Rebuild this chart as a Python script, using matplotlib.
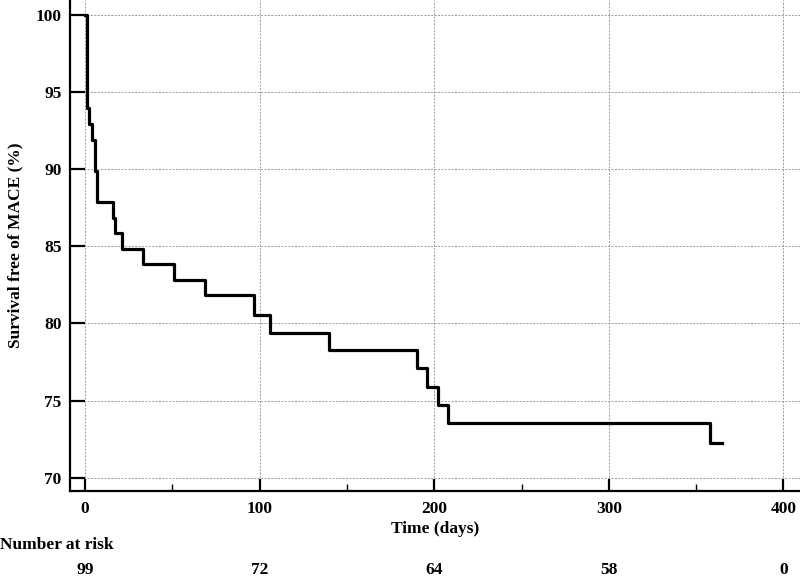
import matplotlib
matplotlib.use('Agg')
import matplotlib.pyplot as plt
import matplotlib.transforms as mtransforms
from matplotlib.ticker import MultipleLocator

# Kaplan-Meier steps (day of drop, survival after it)
days = [0, 1, 2, 4, 6, 7, 16, 17, 21, 33, 51, 69, 97, 106, 140,
        190, 196, 202, 208, 358, 365]
surv = [100, 93.94, 92.93, 91.92, 89.90, 87.88, 86.87, 85.86, 84.85, 83.84,
        82.83, 81.82, 80.54, 79.40, 78.25, 77.10, 75.90, 74.74, 73.55,
        72.25, 72.25]

risk_days = [0, 100, 200, 300, 400]
risk_n = [99, 72, 64, 58, 0]

plt.rcParams['font.family'] = ['Liberation Serif', 'DejaVu Serif']
plt.rcParams['font.weight'] = 'bold'
fs = 12.5

fig = plt.figure(figsize=(8, 5.77), dpi=100)
ax = fig.add_axes([70/800, 1 - 491/577, 730/800, 491/577])

ax.step(days, surv, where='post', color='black', lw=2.3, zorder=3)

ax.set_xlim(-8.6, 409.5)
ax.set_ylim(69.14, 100.97)
ax.xaxis.set_major_locator(MultipleLocator(100))
ax.xaxis.set_minor_locator(MultipleLocator(50))
ax.yaxis.set_major_locator(MultipleLocator(5))

for s in ['top', 'right']:
	ax.spines[s].set_visible(False)
for s in ['left', 'bottom']:
	ax.spines[s].set_linewidth(1.6)

ax.tick_params(axis='x', which='major', direction='in', length=9, width=1.6,
				labelsize=fs, pad=7)
ax.tick_params(axis='x', which='minor', direction='in', length=5, width=1)
ax.tick_params(axis='y', which='major', direction='in', length=11, width=1.6,
				labelsize=fs, pad=6)
for lab in ax.get_xticklabels() + ax.get_yticklabels():
	lab.set_fontweight('bold')

ax.grid(True, which='major', color='#999999', linestyle=(0, (2, 1.5)), lw=0.7)
ax.set_axisbelow(True)

ax.set_xlabel('Time (days)', fontsize=fs, fontweight='bold', labelpad=3)
fig.text(15/800, 1 - 245/577, 'Survival free of MACE (%)', rotation=90,
		ha='center', va='center', fontsize=fs, fontweight='bold')

# number at risk table under the axis
fig.text(0.0, 1 - 545/577, 'Number at risk', ha='left', va='center',
		fontsize=fs, fontweight='bold')
trans = mtransforms.blended_transform_factory(ax.transData, fig.transFigure)
for d, n in zip(risk_days, risk_n):
	ax.text(d, 1 - 570/577, str(n), transform=trans, ha='center', va='center',
			fontsize=fs, fontweight='bold', clip_on=False)

fig.savefig('out.png', dpi=100)
